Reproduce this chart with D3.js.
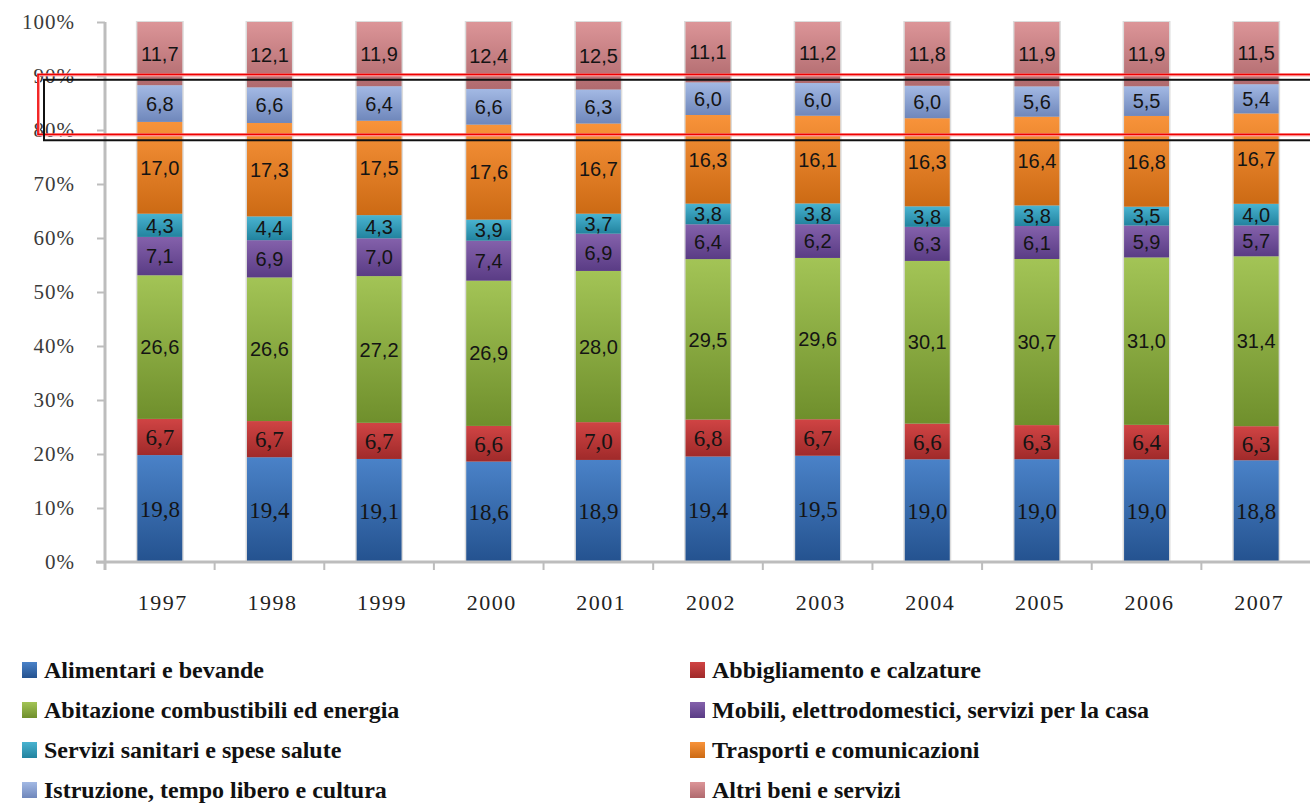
<!DOCTYPE html>
<html>
<head>
<meta charset="utf-8">
<script src="https://cdn.jsdelivr.net/npm/d3@7"></script>
<style>
  html, body { margin: 0; padding: 0; background: #fff; }
  svg { display: block; }
</style>
</head>
<body>
<svg id="chart" width="1310" height="803"></svg>
<script>
// Household spending composition by year (% shares)
const years = ["1997", "1998", "1999", "2000", "2001", "2002", "2003", "2004", "2005", "2006", "2007"];
const alimentari   = [19.8, 19.4, 19.1, 18.6, 18.9, 19.4, 19.5, 19.0, 19.0, 19.0, 18.8];
const abbigliamento = [6.7, 6.7, 6.7, 6.6, 7.0, 6.8, 6.7, 6.6, 6.3, 6.4, 6.3];
const abitazione   = [26.6, 26.6, 27.2, 26.9, 28.0, 29.5, 29.6, 30.1, 30.7, 31.0, 31.4];
const mobili       = [7.1, 6.9, 7.0, 7.4, 6.9, 6.4, 6.2, 6.3, 6.1, 5.9, 5.7];
const sanitari     = [4.3, 4.4, 4.3, 3.9, 3.7, 3.8, 3.8, 3.8, 3.8, 3.5, 4.0];
const trasporti    = [17.0, 17.3, 17.5, 17.6, 16.7, 16.3, 16.1, 16.3, 16.4, 16.8, 16.7];
const istruzione   = [6.8, 6.6, 6.4, 6.6, 6.3, 6.0, 6.0, 6.0, 5.6, 5.5, 5.4];
const altri        = [11.7, 12.1, 11.9, 12.4, 12.5, 11.1, 11.2, 11.8, 11.9, 11.9, 11.5];

const seriesNames = [
  "Alimentari e bevande",
  "Abbigliamento e calzature",
  "Abitazione combustibili ed energia",
  "Mobili, elettrodomestici, servizi per la casa",
  "Servizi sanitari e spese salute",
  "Trasporti e comunicazioni",
  "Istruzione, tempo libero e cultura",
  "Altri beni e servizi"
];
const seriesValues = [alimentari, abbigliamento, abitazione, mobili, sanitari, trasporti, istruzione, altri];

// highlighted band (fractions of the total)
const bandRed = [0.791, 0.902];
const bandBlack = [0.781, 0.893];

// gradient stops per series: [top, bottom]
const palette = [
  ["#4a82c8", "#24528f"],
  ["#d04444", "#a02a2a"],
  ["#a3c456", "#6f8f2c"],
  ["#8461ab", "#5a3c85"],
  ["#49b3d0", "#22839f"],
  ["#f8933a", "#cc6a14"],
  ["#a3b9e4", "#6f87bb"],
  ["#dc9598", "#b06a6e"]
];

const svg = d3.select("#chart");
const W = 1310, H = 803;
const x0 = 105, x1 = 1311, yTop = 22, yBot = 562;

const rows = years.map((yr, i) => {
  const r = { year: yr };
  seriesNames.forEach((n, k) => r[n] = seriesValues[k][i]);
  return r;
});

const stack = d3.stack().keys(seriesNames).offset(d3.stackOffsetExpand);
const layers = stack(rows);

const x = d3.scaleBand().domain(years).range([x0, x1]).paddingInner(0.59).paddingOuter(0.295);
const y = d3.scaleLinear().domain([0, 1]).range([yBot, yTop]);

// gradients
const defs = svg.append("defs");
palette.forEach((c, k) => {
  const g = defs.append("linearGradient").attr("id", "g" + k)
    .attr("x1", 0).attr("y1", 0).attr("x2", 0).attr("y2", 1);
  g.append("stop").attr("offset", "0%").attr("stop-color", c[0]);
  g.append("stop").attr("offset", "100%").attr("stop-color", c[1]);
});

// soft outline behind each bar
svg.append("g").selectAll("rect").data(years).join("rect")
  .attr("x", d => x(d) - 1.5)
  .attr("y", y(1) - 1)
  .attr("width", x.bandwidth() + 3)
  .attr("height", y(0) - y(1) + 1)
  .attr("fill", "#dcdcdc");

// stacked segments
const gLayers = svg.append("g").selectAll("g").data(layers).join("g")
  .attr("fill", (d, k) => `url(#g${k})`);
gLayers.selectAll("rect").data(d => d).join("rect")
  .attr("x", d => x(d.data.year))
  .attr("y", d => y(d[1]))
  .attr("width", x.bandwidth())
  .attr("height", d => y(d[0]) - y(d[1]));

// axes
const axisColor = "#bdbdbd";
const yAxis = svg.append("g").attr("transform", `translate(${x0},0)`)
  .call(d3.axisLeft(y).tickValues(d3.range(0, 11).map(v => v / 10)).tickFormat(d3.format(".0%")).tickSize(8).tickPadding(22));
yAxis.select(".domain").attr("stroke", axisColor).attr("stroke-width", 3).attr("d", `M0,${yTop}V${yBot}`);
yAxis.selectAll(".tick line").attr("stroke", axisColor).attr("stroke-width", 2);
yAxis.selectAll(".tick text")
  .attr("font-family", "'Liberation Serif', serif")
  .attr("font-size", 21)
  .attr("letter-spacing", 1)
  .attr("fill", "#3a3a3a");

const xAxis = svg.append("g").attr("transform", `translate(0,${yBot})`);
xAxis.append("line").attr("x1", x0 - 9).attr("x2", W).attr("stroke", axisColor).attr("stroke-width", 3);
xAxis.selectAll("line.sep").data(years.slice(1)).join("line").attr("class", "sep")
  .attr("x1", d => x(d) - x.step() * 0.295).attr("x2", d => x(d) - x.step() * 0.295)
  .attr("y1", 0).attr("y2", 8).attr("stroke", axisColor).attr("stroke-width", 2);
xAxis.append("line").attr("x1", x0).attr("x2", x0).attr("y1", 0).attr("y2", 8).attr("stroke", axisColor).attr("stroke-width", 3);
xAxis.selectAll("text").data(years).join("text")
  .attr("x", d => x(d) + x.bandwidth() / 2 + 3)
  .attr("y", 48)
  .attr("text-anchor", "middle")
  .attr("font-family", "'Liberation Serif', serif")
  .attr("font-size", 22)
  .attr("letter-spacing", 1.5)
  .attr("fill", "#222")
  .text(d => d);

// value labels
const fmt = v => d3.format(".1f")(v).replace(".", ",");
layers.forEach((layer, k) => {
  const serif = k < 2;
  svg.append("g").selectAll("text").data(layer).join("text")
    .attr("x", d => x(d.data.year) + x.bandwidth() / 2)
    .attr("y", d => (y(d[0]) + y(d[1])) / 2)
    .attr("dy", "0.36em")
    .attr("text-anchor", "middle")
    .attr("font-family", serif ? "'Liberation Serif', serif" : "'Liberation Sans', sans-serif")
    .attr("font-size", serif ? 23 : 20)
    .attr("fill", "#141414")
    .text(d => fmt(d.data[layer.key]));
});

// highlight rectangles
svg.append("rect")
  .attr("x", 38.5).attr("y", y(bandRed[1]))
  .attr("width", W).attr("height", y(bandRed[0]) - y(bandRed[1]))
  .attr("fill", "none").attr("stroke", "#ff9c9c").attr("stroke-width", 3);
svg.append("rect")
  .attr("x", 38).attr("y", y(bandRed[1]) - 0.5)
  .attr("width", W).attr("height", y(bandRed[0]) - y(bandRed[1]))
  .attr("fill", "none").attr("stroke", "#ee0000").attr("stroke-width", 1.5);
svg.append("rect")
  .attr("x", 44).attr("y", y(bandBlack[1]))
  .attr("width", W).attr("height", y(bandBlack[0]) - y(bandBlack[1]))
  .attr("fill", "none").attr("stroke", "#111").attr("stroke-width", 2);

// legend
const legend = svg.append("g");
seriesNames.forEach((name, k) => {
  const col = k % 2, row = Math.floor(k / 2);
  const lx = col === 0 ? 22 : 690;
  const ly = 678 + row * 40;
  const item = legend.append("g").attr("transform", `translate(${lx},${ly})`);
  item.append("rect").attr("x", 0).attr("y", -16).attr("width", 15).attr("height", 16)
    .attr("fill", `url(#g${k})`);
  item.append("text").attr("x", 22).attr("y", 0)
    .attr("font-family", "'Liberation Serif', serif")
    .attr("font-size", 24)
    .attr("font-weight", "bold")
    .attr("fill", "#111")
    .text(name);
});
</script>
</body>
</html>
